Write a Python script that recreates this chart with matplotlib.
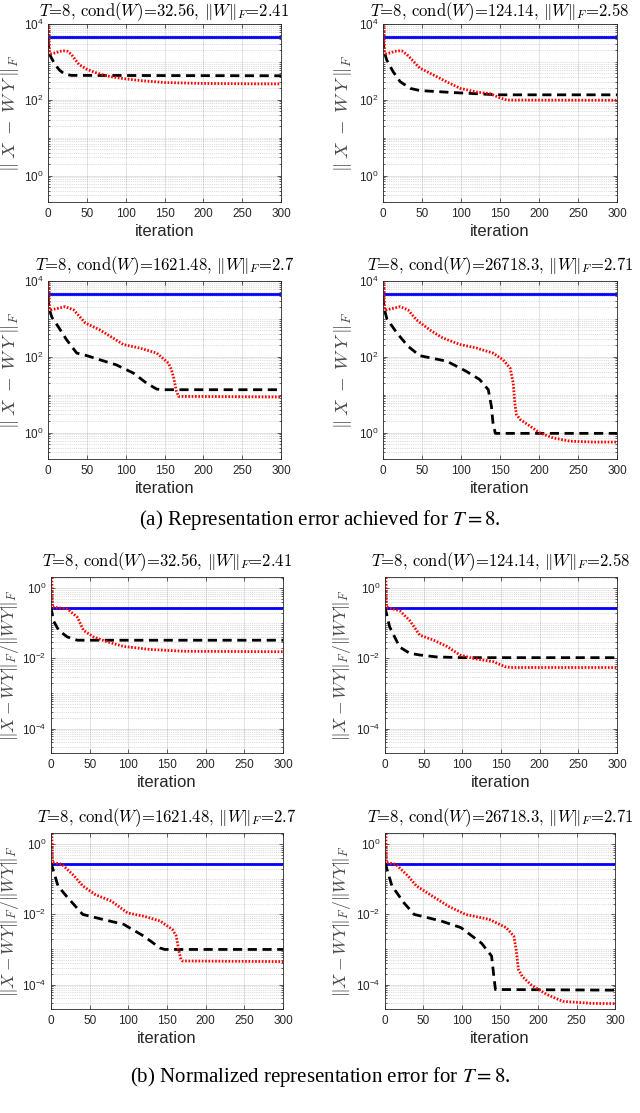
import matplotlib
matplotlib.use("Agg")
import matplotlib.pyplot as plt
from matplotlib.ticker import LogLocator, NullFormatter, FixedLocator

plt.rcParams['font.family'] = ['Liberation Sans', 'DejaVu Sans']
plt.rcParams['mathtext.fontset'] = 'custom'
plt.rcParams['mathtext.rm'] = 'Liberation Sans'
plt.rcParams['mathtext.it'] = 'Liberation Sans:italic'

#%% data
iters_xtick = [0, 50, 100, 150, 200, 250, 300]

titles = [
    r'$T$=8, cond($W$)=32.56, $\|W\|_F$=2.41',
    r'$T$=8, cond($W$)=124.14, $\|W\|_F$=2.58',
    r'$T$=8, cond($W$)=1621.48, $\|W\|_F$=2.7',
    r'$T$=8, cond($W$)=26718.3, $\|W\|_F$=2.71',
]

# (a) representation error
a1_blue = [4600, 4600]
a1_red_it = [1, 2, 3, 5, 10, 15, 20, 25, 30, 35, 40, 50, 60, 70, 80, 90, 100, 120, 150, 200, 250, 300]
a1_red = [1e4, 1700, 1650, 1650, 1750, 1900, 1950, 1900, 1600, 1150, 850, 640, 530, 460, 410, 380,
          355, 320, 285, 270, 265, 262]
a1_blk_it = [0, 1, 2, 5, 10, 15, 20, 25, 30, 300]
a1_blk = [4000, 2200, 1600, 1200, 800, 600, 500, 460, 440, 430]

a2_blue = [4600, 4600]
a2_red_it = [1, 2, 3, 5, 10, 15, 20, 24, 30, 35, 47, 64, 82, 99, 120, 137, 150, 159, 300]
a2_red = [1e4, 1700, 1650, 1650, 1750, 1900, 1950, 1950, 1600, 1270, 690, 460, 295, 200, 160, 145,
          112, 98, 97]
a2_blk_it = [0, 1, 2, 5, 13, 22, 35, 47, 90, 132, 150, 300]
a2_blk = [4000, 2200, 1700, 1100, 550, 300, 200, 175, 155, 140, 135, 135]

a3_blue = [4600, 4600]
a3_red_it = [1, 2, 3, 5, 13, 22, 33, 48, 67, 84, 97, 118, 140, 155, 159, 162, 165, 168, 300]
a3_red = [1e4, 1730, 1700, 1750, 1900, 2100, 1730, 780, 510, 310, 210, 170, 125, 68, 45, 27, 13,
          9, 8.7]
a3_blk_it = [0, 1, 2, 5, 13, 24, 37, 50, 67, 88, 110, 127, 140, 148, 300]
a3_blk = [4000, 2300, 1700, 1100, 630, 280, 125, 107, 83, 61, 37, 20, 14, 13.5, 13.5]

a4_blue = [4600, 4600]
a4_red_it = [1, 2, 3, 5, 13, 22, 32, 43, 60, 77, 99, 120, 141, 154, 163, 167, 169, 171, 176, 188,
             201, 218, 240, 270, 300]
a4_red = [1e4, 1730, 1700, 1750, 1900, 2100, 1730, 940, 510, 310, 210, 170, 125, 83, 50, 20, 6, 3,
          2.2, 1.5, 0.98, 0.72, 0.59, 0.56, 0.56]
a4_blk_it = [0, 1, 2, 5, 18, 32, 47, 82, 107, 124, 135, 139, 141, 144, 300]
a4_blk = [4000, 2300, 1700, 1000, 420, 190, 107, 76, 41, 25, 13.5, 4.9, 1.8, 0.95, 0.95]

# (b) normalized representation error
b1_blue = [0.27, 0.27]
b1_red_it = [1, 2, 21, 34, 42, 55, 72, 94, 128, 171, 300]
b1_red = [2.05, 0.29, 0.26, 0.15, 0.063, 0.041, 0.030, 0.022, 0.018, 0.016, 0.0155]
b1_blk_it = [0, 3, 10, 21, 34, 300]
b1_blk = [0.29, 0.12, 0.063, 0.041, 0.033, 0.033]

b2_blue = [0.27, 0.27]
b2_red_it = [1, 2, 19, 32, 45, 63, 80, 97, 114, 140, 155, 162, 300]
b2_red = [2.05, 0.29, 0.23, 0.12, 0.046, 0.033, 0.022, 0.0125, 0.010, 0.0081, 0.0058, 0.0055, 0.0055]
b2_blk_it = [0, 6, 19, 32, 45, 67, 100, 300]
b2_blk = [0.29, 0.079, 0.021, 0.014, 0.0125, 0.011, 0.0105, 0.0105]

b3_blue = [0.28, 0.28]
b3_red_it = [1, 2, 14, 30, 41, 57, 78, 99, 120, 141, 157, 162, 165, 168, 170, 300]
b3_red = [2.1, 0.30, 0.27, 0.125, 0.065, 0.037, 0.024, 0.011, 0.0089, 0.0065, 0.0037, 0.0024,
          0.001, 0.00052, 0.00047, 0.00045]
b3_blk_it = [0, 9, 20, 41, 67, 94, 120, 141, 147, 300]
b3_blk = [0.30, 0.065, 0.033, 0.010, 0.0072, 0.0052, 0.0024, 0.0011, 0.001, 0.001]

b4_blue = [0.28, 0.28]
b4_red_it = [1, 2, 14, 30, 41, 62, 83, 105, 136, 158, 168, 171, 174, 179, 190, 211, 232, 269, 300]
b4_red = [2.1, 0.30, 0.27, 0.125, 0.065, 0.033, 0.017, 0.010, 0.0072, 0.0042, 0.0024, 0.001,
          0.00027, 0.00017, 0.0001, 5.2e-5, 3.3e-5, 2.9e-5, 2.85e-5]
b4_blk_it = [0, 9, 25, 38, 73, 99, 126, 139, 142, 144, 300]
b4_blk = [0.30, 0.065, 0.021, 0.010, 0.0065, 0.0042, 0.0015, 0.00065, 0.00017, 7.2e-5, 6.9e-5]

#%% panel helper
W, H = 640, 1113
axc = '#262626'


def pos(l, t, r, b):
    return [l / W, 1 - b / H, (r - l) / W, (b - t) / H]


def panel(fig, box, title, blue, blk_it, blk, red_it, red, ylab, ylim, majors, ysize, yoff, tpad=8):
    ax = fig.add_axes(pos(*box))
    ax.plot([0, 300], blue, color='#0000ff', lw=2.0, solid_capstyle='butt')
    ax.plot(blk_it, blk, color='k', lw=2.0, linestyle=(0, (3.3, 2)))
    ax.plot(red_it, red, color='#ff0000', lw=2.0, linestyle=(0, (0.6, 0.6)))
    ax.set_yscale('log')
    ax.set_xlim(0, 300)
    ax.set_ylim(*ylim)
    ax.set_xticks(iters_xtick)
    ax.yaxis.set_major_locator(FixedLocator(majors))
    ax.yaxis.set_minor_locator(LogLocator(base=10, subs=range(1, 10), numticks=30))
    ax.yaxis.set_minor_formatter(NullFormatter())
    ax.tick_params(which='both', direction='in', top=True, right=True, colors=axc,
                   labelsize=8.5, width=0.5)
    ax.tick_params(which='major', length=3)
    ax.tick_params(which='minor', length=1.5)
    ax.tick_params(axis='x', pad=4)
    ax.grid(which='major', color=axc, alpha=0.15, lw=0.6)
    ax.grid(which='minor', axis='y', color=axc, alpha=0.3, lw=0.5, linestyle=':')
    for s in ax.spines.values():
        s.set_color(axc)
        s.set_linewidth(0.6)
    ax.set_title(title, fontsize=12, family='cmr10', math_fontfamily='cm', pad=tpad, color='k')
    ax.set_xlabel('iteration', fontsize=12, color=axc, labelpad=3)
    ax.set_ylabel(ylab, fontsize=ysize, color='#4a4a4a', math_fontfamily='cm', va='center')
    # label centre given in px left of the axes
    ax.yaxis.set_label_coords(-yoff / (box[2] - box[0]), 0.5)
    return ax


#%% figure
fig = plt.figure(figsize=(6.4, 11.13), dpi=100)

ylab_a = r'$\|\;X\;-\;W\,Y\;\|_F$'
ylab_b = r'$\|X-WY\|_F/\|WY\|_F$'
lim_a = (0.2, 1e4)
lim_b = (2e-5, 2.1)
maj_a = [1e0, 1e2, 1e4]
maj_b = [1e-4, 1e-2, 1e0]

panel(fig, (48, 24, 281, 202), titles[0], a1_blue, a1_blk_it, a1_blk, a1_red_it, a1_red, ylab_a, lim_a, maj_a, 13.5, 38, 5.5)
panel(fig, (383, 24, 617, 202), titles[1], a2_blue, a2_blk_it, a2_blk, a2_red_it, a2_red, ylab_a, lim_a, maj_a, 13.5, 40, 5.5)
panel(fig, (48, 281, 281, 459), titles[2], a3_blue, a3_blk_it, a3_blk, a3_red_it, a3_red, ylab_a, lim_a, maj_a, 13.5, 38)
panel(fig, (383, 281, 617, 459), titles[3], a4_blue, a4_blk_it, a4_blk, a4_red_it, a4_red, ylab_a, lim_a, maj_a, 13.5, 40)

panel(fig, (51, 577, 283, 753), titles[0], b1_blue, b1_blk_it, b1_blk, b1_red_it, b1_red, ylab_b, lim_b, maj_b, 12.5, 41)
panel(fig, (385, 577, 617, 753), titles[1], b2_blue, b2_blk_it, b2_blk, b2_red_it, b2_red, ylab_b, lim_b, maj_b, 12.5, 43)
panel(fig, (51, 833, 283, 1009), titles[2], b3_blue, b3_blk_it, b3_blk, b3_red_it, b3_red, ylab_b, lim_b, maj_b, 12.5, 41)
panel(fig, (385, 833, 615, 1009), titles[3], b4_blue, b4_blk_it, b4_blk, b4_red_it, b4_red, ylab_b, lim_b, maj_b, 12.5, 43)

fig.text(0.5, 1 - 520 / H, r'(a) Representation error achieved for $T = 8$.', ha='center', va='center',
         fontsize=15, family='Liberation Serif', math_fontfamily='stix')
fig.text(0.5, 1 - 1077 / H, r'(b) Normalized representation error for $T = 8$.', ha='center', va='center',
         fontsize=15, family='Liberation Serif', math_fontfamily='stix')

fig.savefig('out.png', dpi=100)
